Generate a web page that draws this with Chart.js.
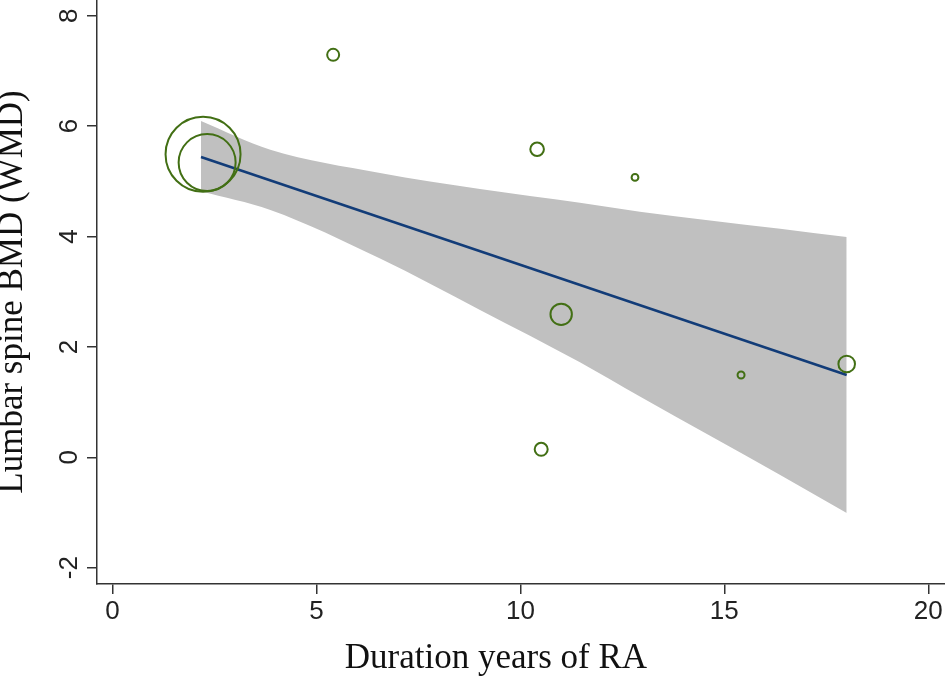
<!DOCTYPE html>
<html>
<head>
<meta charset="utf-8">
<script src="https://cdn.jsdelivr.net/npm/chart.js@4/dist/chart.umd.min.js"></script>
<style>
html,body{margin:0;padding:0;background:#fff;}
#wrap{width:945px;height:677px;position:relative;}
</style>
</head>
<body>
<div id="wrap"><canvas id="c" width="945" height="677"></canvas></div>
<script>
// Study points (duration years, WMD) and marker radii (px, weight)
const studyX = [2.22, 2.32, 5.41, 10.41, 12.81, 11.0, 10.51, 15.41, 18.0];
const studyY = [5.49, 5.34, 7.29, 5.58, 5.07, 2.59, 0.145, 1.49, 1.69];
const studyR = [37.5, 28.5, 6, 6.8, 3.4, 10.7, 6.5, 3.5, 8.3];

// Fitted meta-regression line
const fitX = [2.17, 18.0];
const fitY = [5.44, 1.49];

// Confidence band edges
const bandX = [2.17, 3.87, 6.56, 9.01, 11.46, 12.93, 16.37, 18.0];
const bandUpper = [6.09, 5.57, 5.15, 4.86, 4.61, 4.45, 4.14, 3.99];
const bandLower = [4.82, 4.48, 3.60, 2.67, 1.72, 1.10, -0.32, -1.01];

// Axis ticks
const xTicks = [0, 5, 10, 15, 20];
const yTicks = [-2, 0, 2, 4, 6, 8];

const xTitle = 'Duration years of RA';
const yTitle = 'Lumbar spine BMD (WMD)';

const pts = (xs, ys) => xs.map((x, i) => ({x: x, y: ys[i]}));

const xTitlePlugin = {
  id: 'xTitlePlugin',
  afterDraw(chart) {
    const s = chart.scales.x;
    const ctx = chart.ctx;
    ctx.save();
    ctx.font = '35px "Liberation Serif", "Times New Roman", serif';
    ctx.fillStyle = '#111';
    ctx.textAlign = 'center';
    ctx.textBaseline = 'alphabetic';
    ctx.fillText(xTitle, s.left + (s.right - s.left) * 0.4705, s.bottom - 9);
    ctx.restore();
  }
};

const chart = new Chart(document.getElementById('c'), {
  type: 'scatter',
  data: {
    datasets: [
      {
        type: 'bubble',
        data: studyX.map((x, i) => ({x: x, y: studyY[i], r: studyR[i]})),
        backgroundColor: 'rgba(0,0,0,0)',
        borderColor: '#426f14',
        borderWidth: 2,
        clip: false
      },
      {
        type: 'line',
        data: pts(fitX, fitY),
        borderColor: '#123c78',
        borderWidth: 2.5,
        pointRadius: 0,
        fill: false
      },
      {
        type: 'line',
        data: pts(bandX, bandUpper),
        borderColor: 'rgba(0,0,0,0)',
        borderWidth: 0,
        pointRadius: 0,
        cubicInterpolationMode: 'monotone',
        backgroundColor: '#c0c0c0',
        fill: 3
      },
      {
        type: 'line',
        data: pts(bandX, bandLower),
        borderColor: 'rgba(0,0,0,0)',
        borderWidth: 0,
        pointRadius: 0,
        cubicInterpolationMode: 'monotone',
        fill: false
      }
    ]
  },
  plugins: [xTitlePlugin],
  options: {
    responsive: false,
    animation: false,
    events: [],
    layout: {padding: 0, autoPadding: false},
    plugins: {
      legend: {display: false},
      tooltip: {enabled: false},
      filler: {drawTime: 'beforeDatasetsDraw'}
    },
    scales: {
      x: {
        type: 'linear',
        min: -0.38,
        max: 20.41,
        afterBuildTicks: s => { s.ticks = xTicks.map(v => ({value: v})); },
        afterFit: s => { s.height = 93; s.paddingLeft = 0; s.paddingRight = 0; },
        grid: {display: true, drawOnChartArea: false, drawTicks: true, tickLength: 10, color: '#333', lineWidth: 1.5},
        border: {display: true, color: '#333', width: 1.5},
        ticks: {
          font: {family: '"Liberation Sans", Arial, sans-serif', size: 26},
          color: '#222',
          padding: 2,
          maxRotation: 0,
          minRotation: 0
        },
        title: {display: false, text: xTitle}
      },
      y: {
        type: 'linear',
        min: -2.295,
        max: 8.284,
        afterBuildTicks: s => { s.ticks = yTicks.map(v => ({value: v})); },
        afterFit: s => { s.width = 97; s.paddingTop = 0; s.paddingBottom = 0; },
        grid: {display: true, drawOnChartArea: false, drawTicks: true, tickLength: 10, color: '#333', lineWidth: 1.5},
        border: {display: true, color: '#333', width: 1.5},
        ticks: {
          font: {family: '"Liberation Sans", Arial, sans-serif', size: 26},
          color: '#222',
          padding: 6,
          minRotation: 90,
          maxRotation: 90,
          crossAlign: 'center'
        },
        title: {
          display: true,
          text: yTitle,
          font: {family: '"Liberation Serif", "Times New Roman", serif', size: 35},
          color: '#111',
          padding: {top: -8, bottom: 0}
        }
      }
    }
  }
});
</script>
</body>
</html>
